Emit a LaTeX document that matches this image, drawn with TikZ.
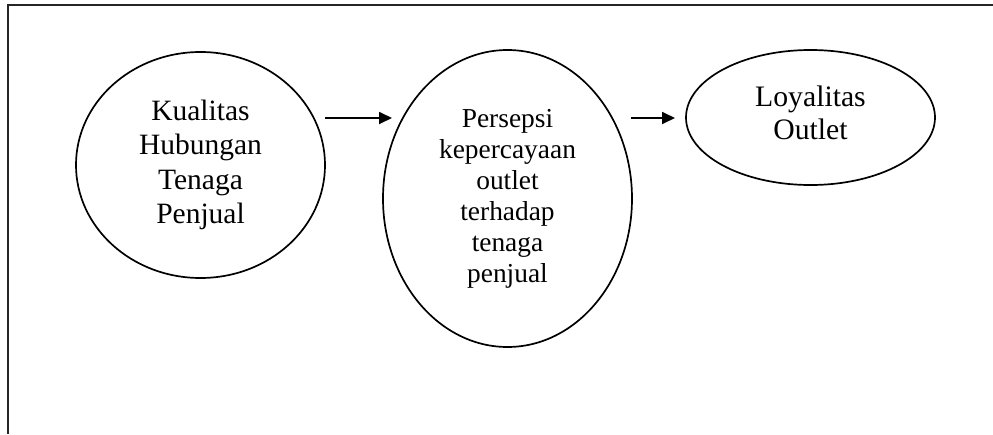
\documentclass[tikz,border=0pt]{standalone}
\usepackage{fontspec}
\setmainfont{Liberation Serif}
\usetikzlibrary{shapes.geometric,arrows.meta}
\begin{document}
\begin{tikzpicture}[x=1pt,y=-1pt,
  oval/.style={draw,ellipse,inner sep=0pt,line width=1.7pt,align=center},
  bigtext/.style={font=\fontsize{29.5}{34.5}\selectfont},
  midtext/.style={font=\fontsize{27.4}{31}\selectfont},
  flow/.style={line width=1.8pt,-{Triangle[length=13pt,width=12pt]}},
  frame/.style={line width=2.2pt,draw=black!85}]
\useasboundingbox (0,0) rectangle (993,434);
% open frame: top and left edges only
\draw[frame] (8,434) -- (8,5) -- (993,5);
% the three constructs
\node[oval,bigtext,minimum width=249pt,minimum height=226pt] (kh) at (200.5,165) {Kualitas\\Hubungan\\Tenaga\\Penjual};
\node[oval,midtext,minimum width=249pt,minimum height=297pt] (pk) at (507.5,198.5) {Persepsi\\kepercayaan\\outlet\\terhadap\\tenaga\\penjual};
\node[oval,minimum width=249pt,minimum height=135pt] (lo) at (810.5,117.5) {};
\node[align=center,font=\fontsize{29.7}{33}\selectfont] (lot) at (810.5,112.6) {Loyalitas\\Outlet};
% arrow end points between the ovals
\coordinate (a1s) at (325,118);
\coordinate (a1e) at (392,118);
\coordinate (a2s) at (631,118);
\coordinate (a2e) at (675,118);
\draw[flow] (a1s) -- (a1e);
\draw[flow] (a2s) -- (a2e);
\end{tikzpicture}
\end{document}
